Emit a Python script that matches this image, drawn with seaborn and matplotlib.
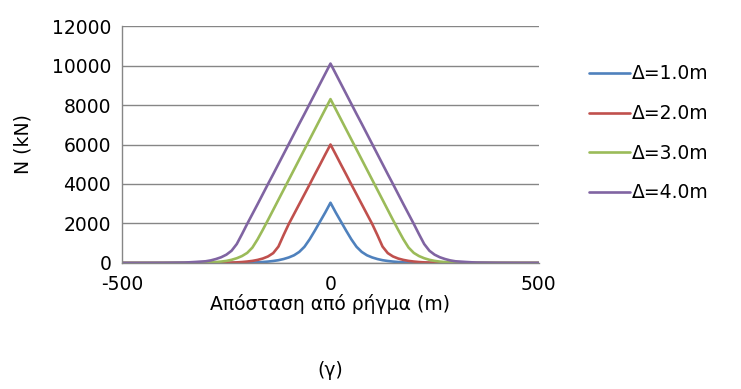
import matplotlib
matplotlib.use("Agg")
import matplotlib.pyplot as plt
import seaborn as sns
import pandas as pd

# Distance from the fault (m)
distance = [-500, -450, -400, -350, -325, -300, -287.5, -275, -262.5, -250,
            -237.5, -225, -212.5, -200, -187.5, -175, -162.5, -150, -137.5,
            -125, -112.5, -100, -87.5, -75, -62.5, -50, -37.5, -25, -12.5,
            0,
            12.5, 25, 37.5, 50, 62.5, 75, 87.5, 100, 112.5, 125, 137.5, 150,
            162.5, 175, 187.5, 200, 212.5, 225, 237.5, 250, 262.5, 275, 287.5,
            300, 325, 350, 400, 450, 500]

# Axial force N (kN) for each fault offset
n_d1 = [0, 0, 0, 0, 0, 0, 0, 0, 1, 2, 4, 6, 10, 15, 22, 32, 48, 70, 100,
        140, 200, 280, 390, 560, 820, 1200, 1640, 2100, 2560,
        3050,
        2560, 2100, 1640, 1200, 820, 560, 390, 280, 200, 140, 100, 70,
        48, 32, 22, 15, 10, 6, 4, 2, 1, 0, 0, 0, 0, 0, 0, 0, 0]
n_d2 = [0, 0, 0, 0, 1, 2, 3, 5, 8, 13, 20, 30, 47, 72, 105, 155, 225, 330,
        500, 830, 1420, 1980, 2480, 2980, 3480, 3980, 4490, 4990, 5500,
        6000,
        5500, 4990, 4490, 3980, 3480, 2980, 2480, 1980, 1420, 830, 500, 330,
        225, 155, 105, 72, 47, 30, 20, 13, 8, 5, 3, 2, 1, 0, 0, 0, 0]
n_d3 = [0, 0, 0, 5, 12, 20, 30, 46, 70, 105, 160, 240, 350, 510, 780, 1200,
        1680, 2180, 2690, 3200, 3710, 4220, 4730, 5240, 5750, 6260, 6770,
        7280, 7790,
        8300,
        7790, 7280, 6770, 6260, 5750, 5240, 4730, 4220, 3710, 3200, 2690,
        2180, 1680, 1200, 780, 510, 350, 240, 160, 105, 70, 46, 30, 20, 12,
        5, 0, 0, 0]
n_d4 = [0, 0, 5, 20, 50, 85, 130, 200, 290, 420, 620, 960, 1460, 1980, 2480,
        2980, 3490, 4000, 4500, 5010, 5520, 6030, 6540, 7050, 7550, 8060,
        8570, 9080, 9590,
        10100,
        9590, 9080, 8570, 8060, 7550, 7050, 6540, 6030, 5520, 5010, 4500,
        4000, 3490, 2980, 2480, 1980, 1460, 960, 620, 420, 290, 200, 130,
        85, 50, 20, 5, 0, 0]

labels = ["Δ=1.0m", "Δ=2.0m", "Δ=3.0m", "Δ=4.0m"]
series = [n_d1, n_d2, n_d3, n_d4]
colors = ["#4F81BD", "#C0504D", "#9BBB59", "#8064A2"]

df = pd.concat(
    [pd.DataFrame({"x": distance, "N": vals, "case": lab})
     for lab, vals in zip(labels, series)],
    ignore_index=True,
)

sns.set_theme(style="white")
plt.rcParams["font.family"] = ["DejaVu Sans"]
plt.rcParams["axes.unicode_minus"] = False
plt.rcParams["text.color"] = "#000000"
plt.rcParams["axes.labelcolor"] = "#000000"

fig = plt.figure(figsize=(7.41, 3.89), dpi=100)
ax = fig.add_axes([0.165, 0.324, 0.562, 0.609])

sns.lineplot(data=df, x="x", y="N", hue="case", palette=colors,
             linewidth=1.9, ax=ax, sort=False, estimator=None)

ax.set_xlim(-500, 500)
ax.set_ylim(0, 12000)
ax.set_xticks([-500, 0, 500])
ax.set_yticks(range(0, 12001, 2000))
ax.tick_params(axis="both", labelsize=13.5, labelcolor="#000000",
               length=5, width=1.0, direction="out", color="#868686")
ax.tick_params(axis="x", pad=4)
ax.tick_params(axis="y", pad=3)

ax.yaxis.grid(True, color="#868686", linewidth=1.0)
ax.xaxis.grid(False)
for side in ["top", "right"]:
    ax.spines[side].set_visible(False)
for side in ["left", "bottom"]:
    ax.spines[side].set_color("#868686")
    ax.spines[side].set_linewidth(1.0)
ax.set_axisbelow(True)

ax.set_xlabel("Απόσταση από ρήγμα (m)", fontsize=13.5, labelpad=0)
ax.set_ylabel("N (kN)", fontsize=13.5, labelpad=14)

handles, labs = ax.get_legend_handles_labels()
ax.legend(handles, labs, loc="center left", bbox_to_anchor=(0.795, 0.657),
          bbox_transform=fig.transFigure, frameon=False, fontsize=13.5,
          handlelength=2.2, handletextpad=0.1, labelspacing=1.1,
          borderpad=0, borderaxespad=0)

fig.text(0.446, 0.048, "(γ)", fontsize=13.5, ha="center", va="center")

fig.savefig("out.png", dpi=100)
